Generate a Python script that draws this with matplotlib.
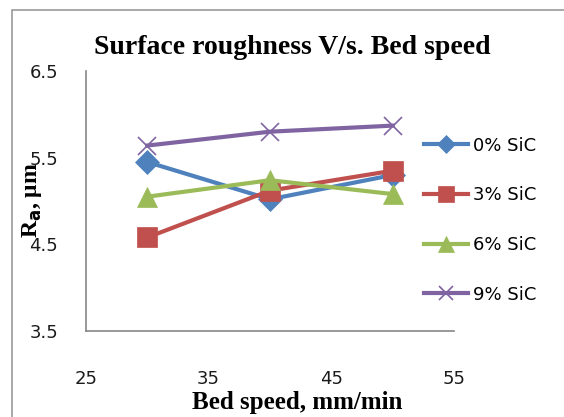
import matplotlib
matplotlib.use("Agg")
import matplotlib.pyplot as plt
from matplotlib.patches import Rectangle

# Daten
bed_speed = [30, 40, 50]
ra_0 = [5.45, 5.02, 5.30]
ra_3 = [4.58, 5.12, 5.35]
ra_6 = [5.05, 5.24, 5.08]
ra_9 = [5.64, 5.80, 5.87]
series_labels = ["0% SiC", "3% SiC", "6% SiC", "9% SiC"]
x_ticks = [25, 35, 45, 55]
y_ticks = [3.5, 4.5, 5.5, 6.5]

colors = ["#4F81BD", "#C0504D", "#9BBB59", "#8064A2"]
markers = ["D", "s", "^", "x"]
msizes = [12, 14, 14, 13]

fig = plt.figure(figsize=(5.64, 4.17), dpi=100)
ax = fig.add_axes([0.1525, 0.2062, 0.6525, 0.6235])

# Rahmen um das Diagramm
fig.patches.append(Rectangle((12 / 564, -0.1), 1.2, 1 - 10 / 417 + 0.1,
                             transform=fig.transFigure, fill=False,
                             edgecolor="#9a9a9a", linewidth=1.2))

for vals, lab, c, m, ms in zip([ra_0, ra_3, ra_6, ra_9], series_labels,
                               colors, markers, msizes):
    ax.plot(bed_speed, vals, color=c, marker=m, markersize=ms, linewidth=3,
            markeredgewidth=1.2 if m == "x" else 0.5, label=lab,
            markeredgecolor=c)

ax.set_xlim(25, 55)
ax.set_ylim(3.5, 6.5)
ax.set_xticks(x_ticks)
ax.set_yticks(y_ticks)
ax.set_yticklabels(["3.5", "4.5", "5.5", "6.5"])
for s in ["top", "right"]:
    ax.spines[s].set_visible(False)
for s in ["left", "bottom"]:
    ax.spines[s].set_color("#868686")
    ax.spines[s].set_linewidth(1.2)
ax.tick_params(axis="both", length=0, labelsize=13, colors="#1a1a1a")
ax.tick_params(axis="x", pad=28)
ax.tick_params(axis="y", pad=20)
for t in ax.get_xticklabels() + ax.get_yticklabels():
    t.set_family("DejaVu Sans")

fig.text(0.518, 1 - 47 / 417, "Surface roughness V/s. Bed speed",
         family="Liberation Serif", weight="bold", fontsize=20,
         ha="center", va="center")
fig.text(0.527, 1 - 403 / 417, "Bed speed, mm/min",
         family="Liberation Serif", weight="bold", fontsize=18,
         ha="center", va="center")
fig.text(32 / 564, 1 - 200 / 417, r"R$_\mathbf{a}$, μm",
         family="Liberation Serif", weight="bold", fontsize=17,
         ha="center", va="center", rotation=90)

leg = ax.legend(loc="upper left", bbox_to_anchor=(0.9, 0.775), frameon=False,
                fontsize=13, labelspacing=1.75, handlelength=2.4,
                handletextpad=0.3, borderaxespad=0, markerscale=0.8)
for t in leg.get_texts():
    t.set_family("DejaVu Sans")

fig.savefig("out.png", dpi=100)
